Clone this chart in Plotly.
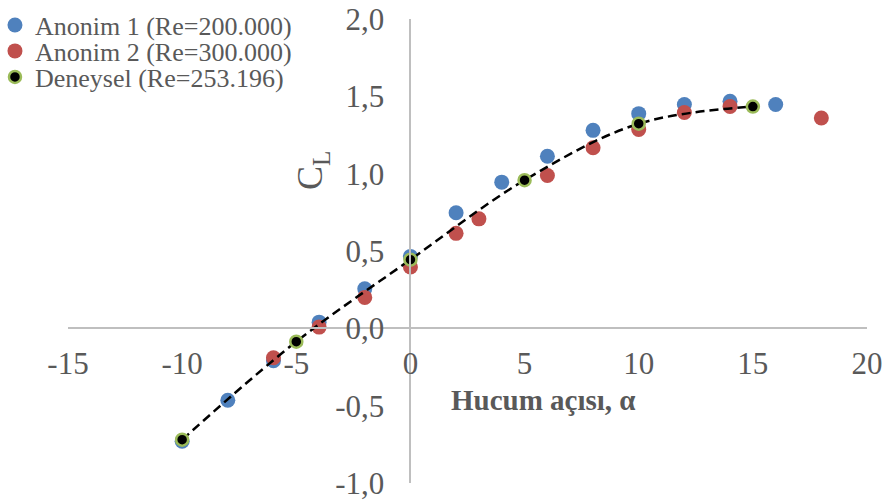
import plotly.graph_objects as go

# ---- data ----
anonim1_alpha = [-10, -8, -6, -4, -2, 0, 2, 4, 6, 8, 10, 12, 14, 16]
anonim1_cl = [-0.73, -0.465, -0.21, 0.04, 0.256, 0.465, 0.747, 0.945, 1.113, 1.28, 1.388, 1.447, 1.468, 1.447]

anonim2_alpha = [-6, -4, -2, 0, 2, 3, 6, 8, 10, 12, 14, 18]
anonim2_cl = [-0.19, 0.008, 0.20, 0.397, 0.614, 0.708, 0.988, 1.168, 1.286, 1.395, 1.434, 1.36]

deneysel_alpha = [-10, -5, 0, 5, 10, 15]
deneysel_cl = [-0.72, -0.086, 0.444, 0.958, 1.323, 1.434]

series_names = ["Anonim 1 (Re=200.000)", "Anonim 2 (Re=300.000)", "Deneysel (Re=253.196)"]

x_tickvals = [-15, -10, -5, 0, 5, 10, 15, 20]
x_ticktext = ["-15", "-10", "-5", "0", "5", "10", "15", "20"]
y_tickvals = [-1.0, -0.5, 0.0, 0.5, 1.0, 1.5, 2.0]
y_ticktext = ["-1,0", "-0,5", "0,0", "0,5", "1,0", "1,5", "2,0"]

x_title = "<b>Hucum açısı, α</b>"
y_title = "C<sub>L</sub>"

# ---- styling ----
FONT = "Times New Roman, Liberation Serif, serif"
TXT = "#595959"
AXIS = "#BFBFBF"

fig = go.Figure()

fig.add_trace(go.Scatter(
    x=anonim1_alpha, y=anonim1_cl, mode="markers", name=series_names[0],
    marker=dict(color="#4F81BD", size=15, line=dict(width=0)),
    legend="legend",
))
fig.add_trace(go.Scatter(
    x=anonim2_alpha, y=anonim2_cl, mode="markers", name=series_names[1],
    marker=dict(color="#C0504D", size=15, line=dict(width=0)),
    legend="legend2",
))
fig.add_trace(go.Scatter(
    x=deneysel_alpha, y=deneysel_cl, mode="lines", showlegend=False,
    line=dict(color="black", width=2.5, dash="9px,5px", shape="spline", smoothing=1.0),
    hoverinfo="skip",
))
fig.add_trace(go.Scatter(
    x=deneysel_alpha, y=deneysel_cl, mode="markers", name=series_names[2],
    marker=dict(color="black", size=12, line=dict(width=2.5, color="#9BBB59")),
    legend="legend3",
))

leg_common = dict(
    x=-0.0914, xanchor="left", yanchor="middle",
    font=dict(family=FONT, size=26, color=TXT),
    bgcolor="rgba(0,0,0,0)", borderwidth=0,
)

fig.update_layout(
    width=886, height=502,
    margin=dict(l=68, r=19, t=19, b=19, autoexpand=False),
    paper_bgcolor="white", plot_bgcolor="white",
    font=dict(family=FONT, color=TXT),
    legend=dict(y=0.9870, **leg_common),
    legend2=dict(y=0.9310, **leg_common),
    legend3=dict(y=0.8750, **leg_common),
    xaxis=dict(
        range=[-15, 20], domain=[0, 1], anchor="free", position=1/3,
        showline=True, linecolor=AXIS, linewidth=2,
        showgrid=False, zeroline=False, ticks="",
        tickvals=x_tickvals, ticktext=x_ticktext,
        tickfont=dict(family=FONT, size=31, color=TXT),
        ticklabelstandoff=7,
    ),
    yaxis=dict(
        range=[-1, 2], domain=[0, 1], anchor="free", position=15/35,
        showline=True, linecolor=AXIS, linewidth=2,
        showgrid=False, zeroline=False, ticks="",
        tickvals=y_tickvals, ticktext=y_ticktext,
        tickfont=dict(family=FONT, size=31, color=TXT),
        ticklabelstandoff=19,
    ),
    annotations=[
        dict(text=x_title, xref="paper", yref="paper", x=0.5957, y=0.1789,
             xanchor="center", yanchor="middle", showarrow=False,
             font=dict(family=FONT, size=29, color=TXT)),
        dict(text=y_title, xref="paper", yref="paper", x=0.3066, y=0.6746,
             xanchor="center", yanchor="middle", showarrow=False, textangle=-90,
             font=dict(family=FONT, size=36, color=TXT)),
    ],
)

fig.write_html("out.html", config={"displayModeBar": False},
               post_script="document.body.style.margin='0';")
